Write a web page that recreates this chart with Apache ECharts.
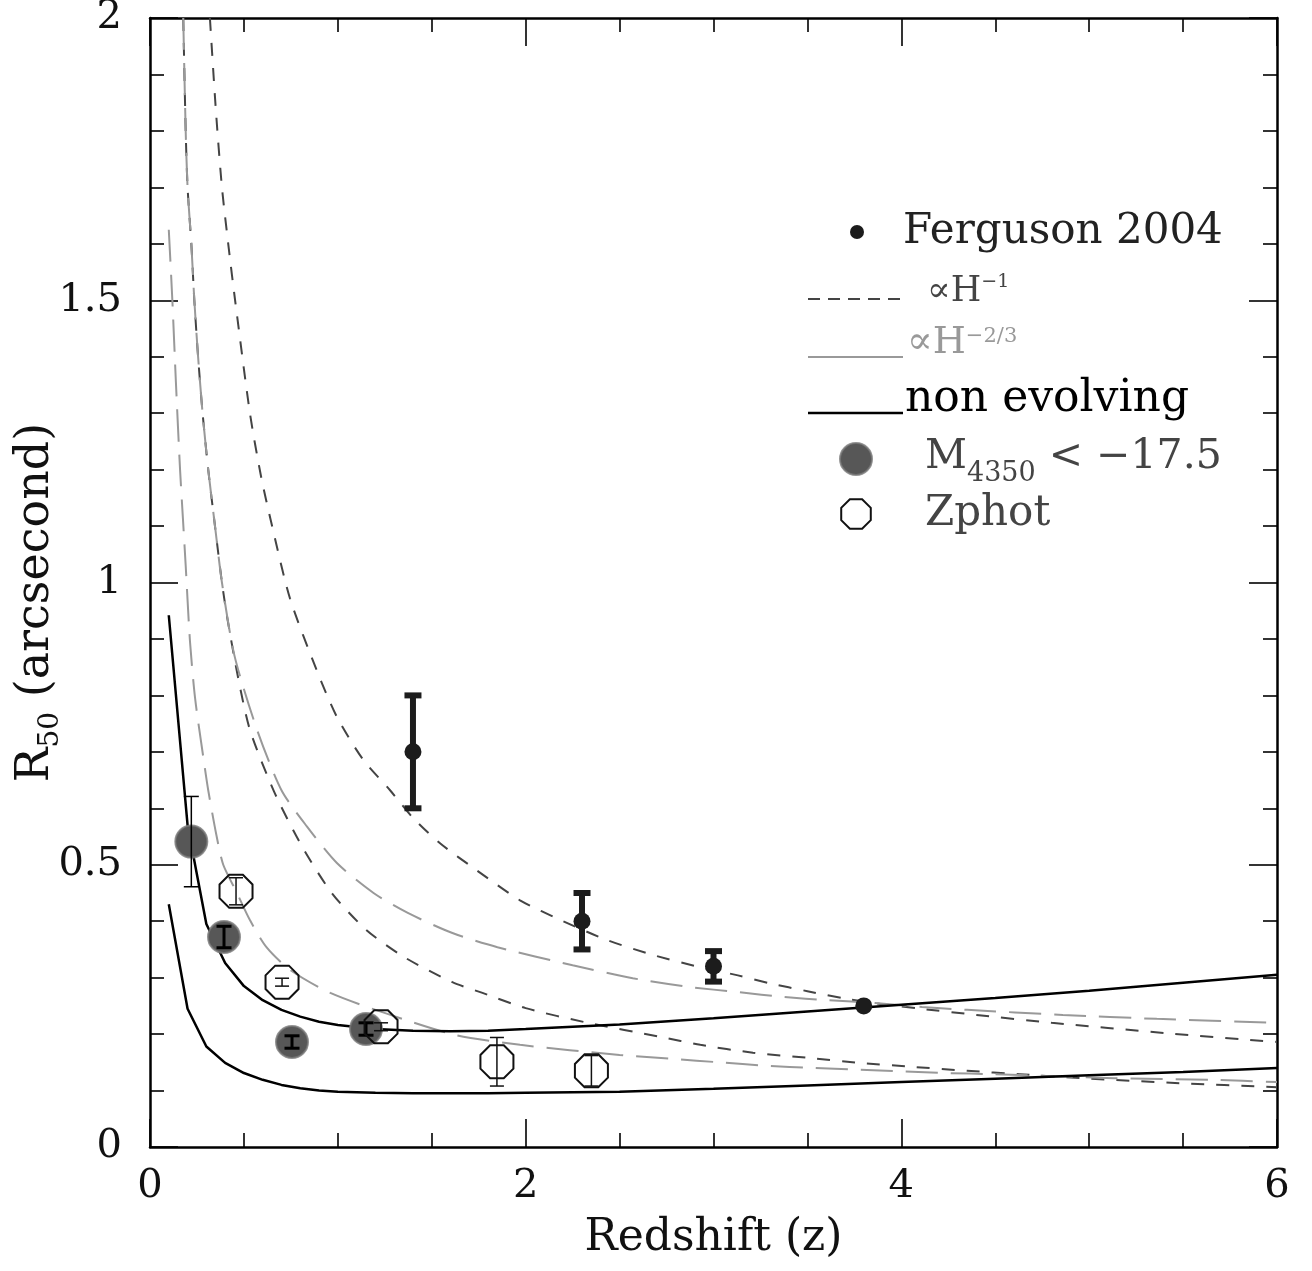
<!DOCTYPE html>
<html><head><meta charset="utf-8">
<script src="https://cdn.jsdelivr.net/npm/echarts@6/dist/echarts.min.js"></script>
<style>html,body{margin:0;padding:0;background:#fff}#chart{width:1312px;height:1271px}</style>
</head><body><div id="chart"></div>
<script>
// ---- tick labels ----
const xTickLabels = [0, 2, 4, 6];
const yTickLabels = [0, 0.5, 1, 1.5, 2];

// ---- data points ----
const fergZ = [1.4, 2.3, 3.0, 3.8];
const fergR = [0.70, 0.40, 0.32, 0.25];
const fergErr = [0.10, 0.05, 0.027, 0];

const m4350Z = [0.22, 0.394, 0.756, 1.15];
const m4350R = [0.541, 0.372, 0.186, 0.209];
const m4350Err = [0.08, 0.019, 0.011, 0.011];

const zphotZ = [0.458, 0.703, 1.23, 1.847, 2.35];
const zphotR = [0.453, 0.292, 0.213, 0.151, 0.135];
const zphotErr = [0.024, 0.007, 0.007, 0.043, 0.027];

// ---- model curves [z, R50] ----
const hInvUpper = [[0.319,2.0],[0.35,1.84],[0.383,1.7],[0.42,1.59],[0.453,1.5],[0.532,1.3],[0.59,1.19],[0.65,1.1],[0.745,0.972],[0.887,0.845],[0.995,0.762],[1.135,0.686],[1.278,0.632],[1.40,0.583],[1.544,0.538],[1.74,0.49],[1.97,0.437],[2.2,0.400],[2.43,0.367],[2.68,0.340],[2.91,0.320],[3.13,0.304],[3.3,0.29],[3.5,0.276],[3.7,0.263],[3.9,0.253],[4.1,0.245],[4.4,0.234],[4.8,0.22],[5.4,0.202],[6.0,0.186]];
const hInvLower = [[0.177,2.0],[0.19,1.8],[0.2,1.7],[0.22,1.6],[0.236,1.5],[0.256,1.4],[0.28,1.3],[0.31,1.2],[0.346,1.1],[0.383,1.0],[0.41,0.94],[0.47,0.83],[0.532,0.739],[0.66,0.63],[0.81,0.532],[0.97,0.449],[1.15,0.385],[1.35,0.337],[1.61,0.292],[1.77,0.273],[2.0,0.246],[2.33,0.22],[2.72,0.195],[2.93,0.181],[3.21,0.167],[3.5,0.158],[3.78,0.149],[4.06,0.142],[4.35,0.135],[4.63,0.129],[4.95,0.122],[5.48,0.113],[6.0,0.106]];
const h23Upper = [[0.177,2.0],[0.19,1.8],[0.2,1.7],[0.22,1.6],[0.236,1.5],[0.256,1.4],[0.28,1.3],[0.31,1.2],[0.346,1.1],[0.383,1.0],[0.45,0.87],[0.57,0.739],[0.70,0.632],[0.835,0.568],[0.995,0.503],[1.19,0.45],[1.37,0.415],[1.61,0.379],[1.85,0.354],[2.25,0.322],[2.57,0.299],[2.86,0.284],[3.14,0.274],[3.37,0.266],[3.61,0.26],[3.86,0.255],[4.11,0.248],[4.35,0.243],[4.86,0.234],[5.36,0.227],[6.0,0.22]];
const h23Lower = [[0.1,1.625],[0.119,1.5],[0.138,1.354],[0.16,1.2],[0.175,1.115],[0.19,1.03],[0.213,0.895],[0.24,0.795],[0.284,0.69],[0.31,0.632],[0.355,0.55],[0.39,0.5],[0.463,0.45],[0.532,0.402],[0.62,0.354],[0.745,0.314],[0.96,0.273],[1.28,0.234],[1.63,0.198],[1.97,0.181],[2.5,0.163],[2.79,0.156],[3.03,0.15],[3.28,0.144],[3.53,0.14],[3.76,0.137],[4.01,0.134],[4.24,0.131],[4.49,0.129],[5.13,0.122],[5.66,0.119],[6.0,0.115]];
const nonEvolUpper = [[0.1,0.942],[0.2,0.57],[0.3,0.395],[0.4,0.326],[0.5,0.285],[0.6,0.26],[0.7,0.243],[0.8,0.231],[0.9,0.222],[1.0,0.216],[1.2,0.209],[1.4,0.206],[1.6,0.205],[1.8,0.206],[2.0,0.209],[2.5,0.217],[3.0,0.228],[3.5,0.24],[4.0,0.252],[4.5,0.264],[5.0,0.277],[5.5,0.291],[6.0,0.305]];
const nonEvolLower = [[0.1,0.43],[0.2,0.245],[0.3,0.178],[0.4,0.149],[0.5,0.131],[0.6,0.119],[0.7,0.110],[0.8,0.104],[0.9,0.100],[1.0,0.098],[1.2,0.096],[1.4,0.095],[1.6,0.095],[1.8,0.095],[2.0,0.096],[2.5,0.098],[3.0,0.103],[3.5,0.109],[4.0,0.115],[4.5,0.121],[5.0,0.127],[5.5,0.133],[6.0,0.14]];

// ---- legend texts ----
const legendLabels = ['Ferguson 2004', '∝H', '−1', '∝H', '−2/3', 'non evolving', 'M', '4350', ' < −17.5', 'Zphot'];

const FONT = 'DejaVu Serif';
const zip3 = (a, b, c) => a.map((v, i) => [v, b[i], c[i]]);
const OCT = 'path://M0.383,-0.924L0.924,-0.383L0.924,0.383L0.383,0.924L-0.383,0.924L-0.924,0.383L-0.924,-0.383L-0.383,-0.924Z';

function errRender(capW, lw, color, firstLw) {
  return function (params, api) {
    const x = api.value(0), y = api.value(1), e = api.value(2);
    if (!e) return null;
    const w = (firstLw && params.dataIndex === 0) ? firstLw : lw;
    const cw = (firstLw && params.dataIndex === 0) ? 15 : capW;
    const t = api.coord([x, y + e]), b = api.coord([x, y - e]);
    const st = { stroke: color, lineWidth: w };
    return { type: 'group', children: [
      { type: 'line', shape: { x1: t[0], y1: t[1], x2: b[0], y2: b[1] }, style: st },
      { type: 'line', shape: { x1: t[0] - cw / 2, y1: t[1], x2: t[0] + cw / 2, y2: t[1] }, style: st },
      { type: 'line', shape: { x1: b[0] - cw / 2, y1: b[1], x2: b[0] + cw / 2, y2: b[1] }, style: st }
    ]};
  };
}

function lineSeries(data, color, width, type, smooth, z) {
  return { type: 'line', data: data, showSymbol: false, symbol: 'none', smooth: smooth, z: z || 2,
    lineStyle: { color: color, width: width, type: type }, silent: true, animation: false };
}

const axisCommon = {
  type: 'value', min: 0, max: 6, interval: 2,
  axisLine: { onZero: false, lineStyle: { color: '#000', width: 2.5 } },
  axisTick: { inside: true, length: 28, lineStyle: { color: '#000', width: 1.6 } },
  minorTick: { show: true, splitNumber: 4, length: 14, lineStyle: { color: '#000', width: 1.6 } },
  splitLine: { show: false }, minorSplitLine: { show: false }
};
const yCommon = {
  type: 'value', min: 0, max: 2, interval: 0.5,
  axisLine: { onZero: false, lineStyle: { color: '#000', width: 2.5 } },
  axisTick: { inside: true, length: 28, lineStyle: { color: '#000', width: 1.6 } },
  minorTick: { show: true, splitNumber: 5, length: 14, lineStyle: { color: '#000', width: 1.6 } },
  splitLine: { show: false }, minorSplitLine: { show: false }
};

const octPts = [];
for (let k = 0; k < 8; k++) { const a = Math.PI / 8 + k * Math.PI / 4; octPts.push([856 + 16 * Math.cos(a), 514 + 16 * Math.sin(a)]); }

const option = {
  backgroundColor: '#fff',
  animation: false,
  grid: { left: 150, right: 35, top: 18, bottom: 124, containLabel: false, outerBoundsMode: 'none' },
  xAxis: [
    Object.assign({}, axisCommon, { position: 'bottom',
      axisLabel: { show: true, fontFamily: FONT, fontSize: 40, color: '#111', margin: 20,
        formatter: v => xTickLabels.includes(v) ? String(v) : '' },
      name: 'Redshift (z)', nameLocation: 'middle', nameGap: 70, nameMoveOverlap: false,
      nameTextStyle: { fontFamily: FONT, fontSize: 44, color: '#111' } }),
    Object.assign({}, axisCommon, { position: 'top', axisLabel: { show: false } })
  ],
  yAxis: [
    Object.assign({}, yCommon, { position: 'left',
      axisLabel: { show: true, fontFamily: FONT, fontSize: 40, color: '#111', margin: 28,
        formatter: v => yTickLabels.includes(v) ? String(v) : '' },
      name: '{r|R}{s|50}{t| (arcsecond)}', nameLocation: 'middle', nameGap: 88, nameRotate: 90, nameMoveOverlap: false,
      nameTextStyle: { fontFamily: FONT, fontSize: 46, color: '#111',
        rich: { r: { fontFamily: FONT, fontSize: 46, color: '#111', lineHeight: 52 },
                s: { fontFamily: FONT, fontSize: 28, color: '#111', lineHeight: 30, padding: [30, 0, 0, 0] },
                t: { fontFamily: FONT, fontSize: 46, color: '#111', lineHeight: 52, padding: [0, 40, 0, 0] } } } }),
    Object.assign({}, yCommon, { position: 'right', axisLabel: { show: false } })
  ],
  series: [
    lineSeries(hInvUpper, '#444', 2, [13, 12], 0.25),
    lineSeries(hInvLower, '#444', 2, [13, 12], 0.25),
    lineSeries(h23Upper, '#999', 2, [32, 13], 0.25),
    lineSeries(h23Lower, '#999', 2, [32, 13], 0.25),
    lineSeries(nonEvolUpper, '#000', 2.5, 'solid', false),
    lineSeries(nonEvolLower, '#000', 2.5, 'solid', false),
    { type: 'scatter', data: m4350Z.map((v, i) => [v, m4350R[i]]), symbol: 'circle', symbolSize: 32, z: 3,
      itemStyle: { color: '#575757', borderColor: 'rgba(120,120,120,0.8)', borderWidth: 2, opacity: 1 }, silent: true },
    { type: 'custom', data: zip3(m4350Z, m4350R, m4350Err), renderItem: errRender(15, 3, '#000', 1.5), z: 4, silent: true },
    { type: 'scatter', data: zphotZ.map((v, i) => [v, zphotR[i]]), symbol: OCT, symbolSize: 33, z: 5,
      itemStyle: { color: 'rgba(0,0,0,0)', borderColor: '#111', borderWidth: 2, opacity: 1 }, silent: true },
    { type: 'custom', data: zip3(zphotZ, zphotR, zphotErr), renderItem: errRender(14, 1.5, '#111'), z: 5, silent: true },
    { type: 'custom', data: zip3(fergZ, fergR, fergErr), renderItem: errRender(17, 6, '#1c1c1c'), z: 6, silent: true },
    { type: 'scatter', data: fergZ.map((v, i) => [v, fergR[i]]), symbol: 'circle', symbolSize: 17, z: 7,
      itemStyle: { color: '#1c1c1c', opacity: 1 }, silent: true }
  ],
  graphic: [
    { type: 'circle', shape: { cx: 857, cy: 232, r: 7 }, style: { fill: '#1c1c1c' } },
    { type: 'text', x: 903, y: 232, style: { text: legendLabels[0], fontFamily: FONT, fontSize: 42, fill: '#222', verticalAlign: 'middle' } },
    { type: 'line', shape: { x1: 808, y1: 299, x2: 900, y2: 299 }, style: { stroke: '#444', lineWidth: 2, lineDash: [12, 8] } },
    { type: 'text', x: 927, y: 292, style: { text: '{a|' + legendLabels[1] + '}{b|' + legendLabels[2] + '}', verticalAlign: 'middle',
      rich: { a: { fontFamily: FONT, fontSize: 35, fill: '#444', lineHeight: 40 },
              b: { fontFamily: FONT, fontSize: 19, fill: '#444', lineHeight: 20, padding: [0, 0, 20, 0] } } } },
    { type: 'line', shape: { x1: 808, y1: 357, x2: 903, y2: 357 }, style: { stroke: '#999', lineWidth: 2 } },
    { type: 'text', x: 907, y: 343, style: { text: '{a|' + legendLabels[3] + '}{b|' + legendLabels[4] + '}', verticalAlign: 'middle',
      rich: { a: { fontFamily: FONT, fontSize: 38, fill: '#999', lineHeight: 44 },
              b: { fontFamily: FONT, fontSize: 21, fill: '#999', lineHeight: 22, padding: [0, 0, 12, 0] } } } },
    { type: 'line', shape: { x1: 808, y1: 413, x2: 903, y2: 413 }, style: { stroke: '#000', lineWidth: 2.5 } },
    { type: 'text', x: 905, y: 400, style: { text: legendLabels[5], fontFamily: FONT, fontSize: 44, fill: '#000', verticalAlign: 'middle' } },
    { type: 'circle', shape: { cx: 856, cy: 459, r: 16 }, style: { fill: '#575757', stroke: 'rgba(120,120,120,0.8)', lineWidth: 2 } },
    { type: 'text', x: 925, y: 457, style: { text: '{m|' + legendLabels[6] + '}{s|' + legendLabels[7] + '}{m|' + legendLabels[8] + '}', verticalAlign: 'middle',
      rich: { m: { fontFamily: FONT, fontSize: 41, fill: '#444', lineHeight: 46 },
              s: { fontFamily: FONT, fontSize: 27, fill: '#444', lineHeight: 28, padding: [34, 0, 0, 0] } } } },
    { type: 'polygon', shape: { points: octPts }, style: { fill: 'rgba(0,0,0,0)', stroke: '#111', lineWidth: 2 } },
    { type: 'text', x: 925, y: 514, style: { text: legendLabels[9], fontFamily: FONT, fontSize: 42, fill: '#444', verticalAlign: 'middle' } }
  ]
};
const chart = echarts.init(document.getElementById('chart'));
chart.setOption(option);
</script>
</body></html>
